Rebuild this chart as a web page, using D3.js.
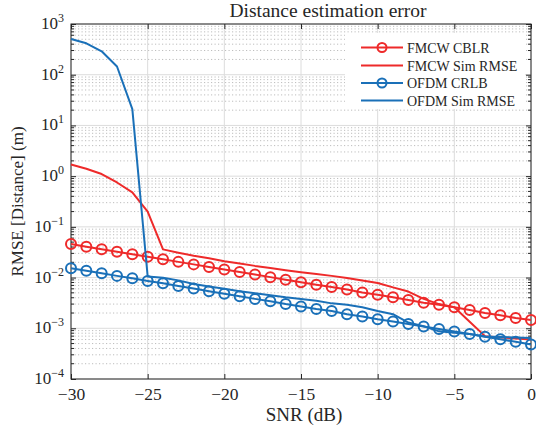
<!DOCTYPE html>
<html><head><meta charset="utf-8">
<script src="https://cdn.jsdelivr.net/npm/d3@7"></script>
<style>body{margin:0;background:#fff}svg{display:block}text{font-family:"Liberation Serif","Times New Roman",serif;fill:#262626}</style>
</head><body>
<svg id="c" width="536" height="433"></svg>
<script>
const snr = d3.range(-30, 1, 1);
const fmcwCrlb = [0.0457,0.0407,0.0363,0.0324,0.0288,0.0257,0.0229,0.0204,0.0182,0.0162,0.0145,0.0129,0.0115,0.0102,0.0091,0.0081,0.0072,0.0065,0.0058,0.0051,0.0046,0.0041,0.0036,0.0032,0.0029,0.0026,0.0023,0.0020,0.0018,0.0016,0.00145];
const fmcwSim = [1.7,1.4,1.1,0.75,0.48,0.2,0.036,0.031,0.027,0.024,0.021,0.019,0.017,0.0155,0.014,0.0128,0.0118,0.0108,0.0098,0.0088,0.0078,0.0064,0.0053,0.0038,0.0030,0.0026,0.00135,0.00070,0.00066,0.00063,0.0006];
const ofdmCrlb = [0.0153,0.0136,0.0122,0.0108,0.0097,0.0086,0.0077,0.0068,0.0061,0.0054,0.0048,0.0043,0.0038,0.0034,0.0030,0.0027,0.0024,0.0022,0.0019,0.0017,0.0015,0.00136,0.00122,0.00108,0.00097,0.00086,0.00077,0.00068,0.00061,0.00054,0.00048];
const ofdmSim = [506,417,290,145,21,0.0105,0.0099,0.0088,0.0075,0.0067,0.006,0.0054,0.0049,0.0045,0.0041,0.0038,0.0035,0.0031,0.0029,0.0026,0.0022,0.0019,0.0013,0.0011,0.00087,0.00082,0.00077,0.00069,0.00067,0.00066,0.00064];
const xTicks = [-30,-25,-20,-15,-10,-5,0];
const yExps = [-4,-3,-2,-1,0,1,2,3];
const legendLabels = ["FMCW CBLR","FMCW Sim RMSE","OFDM CRLB","OFDM Sim RMSE"];
const RED = "#ee2a2a", BLUE = "#1a70b8";

const L=71, R=531, T=24, B=379;
const svg = d3.select("#c");
const x = d3.scaleLinear().domain([-30,0]).range([L,R]);
const y = d3.scaleLog().domain([1e-4,1e3]).range([B,T]);

// minor grid
const minors = [];
for (let e=-4;e<3;e++) for (let m=2;m<=9;m++) minors.push(m*Math.pow(10,e));
svg.append("g").selectAll("line").data(minors).join("line")
  .attr("x1",L).attr("x2",R).attr("y1",d=>y(d)).attr("y2",d=>y(d))
  .attr("stroke","#bdbdbd").attr("stroke-width",1).attr("stroke-dasharray","1.2,2.3");
// major grid
svg.append("g").selectAll("line").data(yExps).join("line")
  .attr("x1",L).attr("x2",R).attr("y1",d=>y(Math.pow(10,d))).attr("y2",d=>y(Math.pow(10,d)))
  .attr("stroke","#dcdcdc").attr("stroke-width",1);
svg.append("g").selectAll("line").data(xTicks).join("line")
  .attr("y1",T).attr("y2",B).attr("x1",d=>x(d)).attr("x2",d=>x(d))
  .attr("stroke","#dcdcdc").attr("stroke-width",1);

// axes (ticks inward)
const gx = svg.append("g").attr("transform",`translate(0,${B})`)
  .call(d3.axisBottom(x).tickValues(xTicks).tickSize(-5).tickPadding(9).tickFormat(d=>d<0?"\u2212"+(-d):d));
gx.select(".domain").remove();
gx.selectAll("text").attr("font-size",17.5).attr("font-family","Liberation Serif").attr("fill","#262626");
gx.selectAll("line").attr("stroke","#262626");
const gxt = svg.append("g").attr("transform",`translate(0,${T})`)
  .call(d3.axisTop(x).tickValues(xTicks).tickSize(-5).tickFormat(""));
gxt.select(".domain").remove(); gxt.selectAll("line").attr("stroke","#262626");

const gy = svg.append("g").attr("transform",`translate(${L},0)`)
  .call(d3.axisLeft(y).tickValues(yExps.map(e=>Math.pow(10,e))).tickSize(-5).tickFormat(""));
gy.select(".domain").remove(); gy.selectAll("line").attr("stroke","#262626");
const gyr = svg.append("g").attr("transform",`translate(${R},0)`)
  .call(d3.axisRight(y).tickValues(yExps.map(e=>Math.pow(10,e))).tickSize(-5).tickFormat(""));
gyr.select(".domain").remove(); gyr.selectAll("line").attr("stroke","#262626");
// minor ticks
[[L,1],[R,-1]].forEach(([px,s])=>{
  svg.append("g").selectAll("line").data(minors).join("line")
    .attr("x1",px).attr("x2",px+s*3).attr("y1",d=>y(d)).attr("y2",d=>y(d))
    .attr("stroke","#262626").attr("stroke-width",1);
});
// y tick labels
const yl = svg.append("g").selectAll("text").data(yExps).join("text")
  .attr("x",L-7).attr("y",d=>y(Math.pow(10,d))+5).attr("text-anchor","end").attr("font-size",17);
yl.append("tspan").text("10");
yl.append("tspan").attr("dy",-7).attr("font-size",12).text(d=>d<0?"\u2212"+(-d):d);

// box
svg.append("rect").attr("x",L).attr("y",T).attr("width",R-L).attr("height",B-T)
  .attr("fill","none").attr("stroke","#262626").attr("stroke-width",1);

// series
const line = d3.line().x((d,i)=>x(snr[i])).y(d=>y(d));
function drawLine(data,color){
  svg.append("path").datum(data).attr("d",line).attr("fill","none")
    .attr("stroke",color).attr("stroke-width",2).attr("stroke-linejoin","round");
}
function drawMarkers(data,color){
  svg.append("g").selectAll("circle").data(data).join("circle")
    .attr("cx",(d,i)=>x(snr[i])).attr("cy",d=>y(d)).attr("r",5)
    .attr("fill","none").attr("stroke",color).attr("stroke-width",2);
}
drawLine(fmcwCrlb,RED); drawMarkers(fmcwCrlb,RED);
drawLine(fmcwSim,RED);
drawLine(ofdmCrlb,BLUE); drawMarkers(ofdmCrlb,BLUE);
drawLine(ofdmSim,BLUE);

// legend
const lg = svg.append("g");
lg.append("rect").attr("x",345).attr("y",33).attr("width",180).attr("height",76).attr("fill","#fff");
const ly = [47.5,65.5,83,100.5], lc=[RED,RED,BLUE,BLUE], lm=[true,false,true,false];
legendLabels.forEach((t,i)=>{
  lg.append("line").attr("x1",361).attr("x2",403).attr("y1",ly[i]).attr("y2",ly[i]).attr("stroke",lc[i]).attr("stroke-width",2);
  if(lm[i]) lg.append("circle").attr("cx",382).attr("cy",ly[i]).attr("r",4.5).attr("fill","none").attr("stroke",lc[i]).attr("stroke-width",2);
  lg.append("text").attr("x",407).attr("y",ly[i]+5).attr("font-size",14).text(t);
});

// labels
svg.append("text").attr("x",328).attr("y",17).attr("text-anchor","middle").attr("font-size",19.5).text("Distance estimation error");
svg.append("text").attr("x",304).attr("y",421).attr("text-anchor","middle").attr("font-size",19).text("SNR (dB)");
svg.append("text").attr("transform",`translate(23,${(T+B)/2}) rotate(-90)`).attr("text-anchor","middle").attr("font-size",17).text("RMSE [Distance] (m)");
</script>
</body></html>
